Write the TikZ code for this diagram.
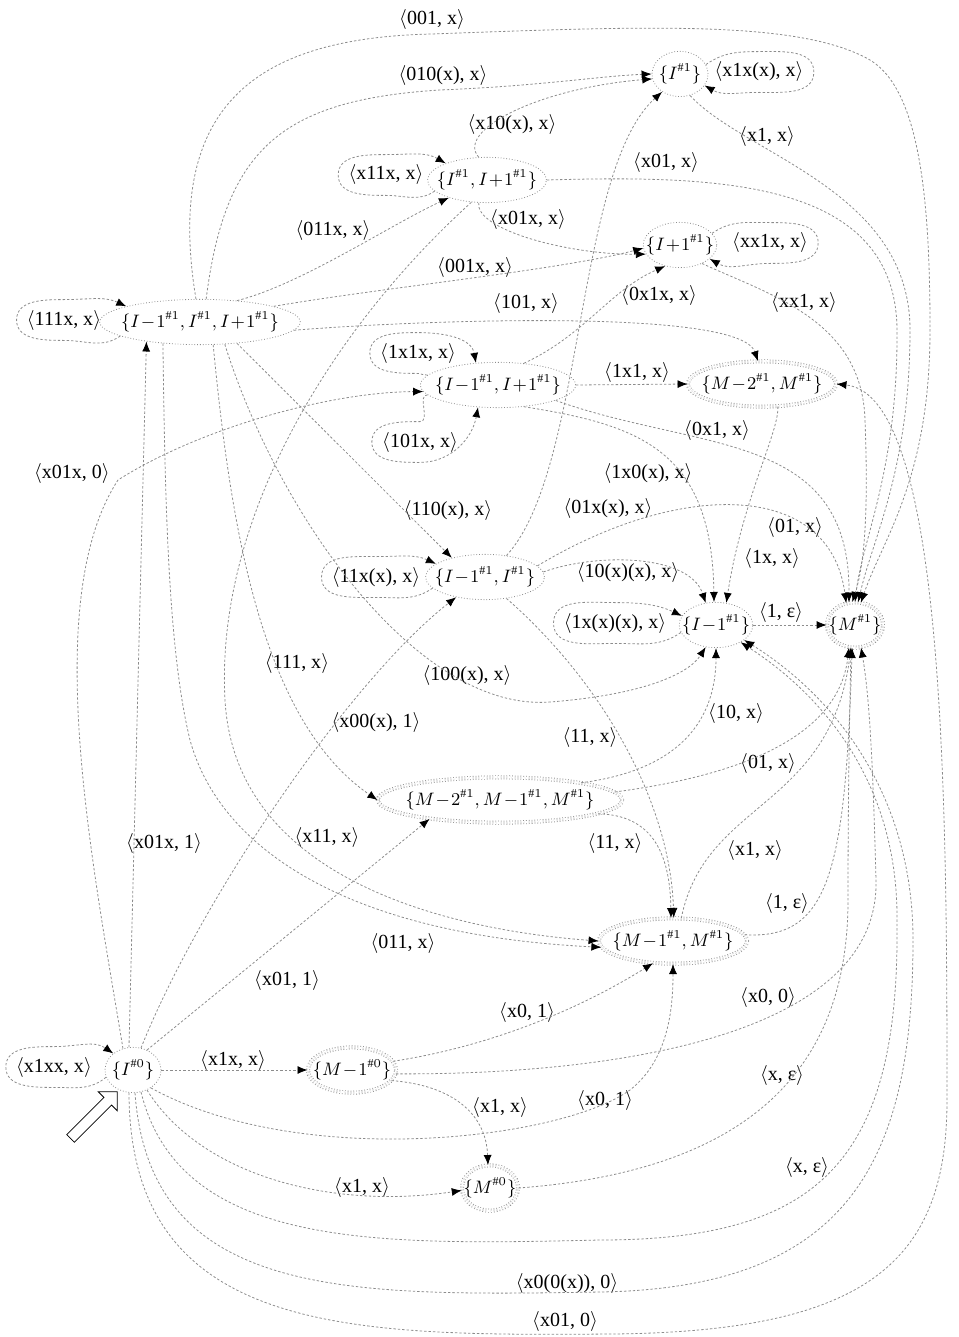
\documentclass[tikz,border=0pt]{standalone}
\usepackage{fontspec}
\setmainfont{Liberation Serif}
\usetikzlibrary{shapes.geometric,shapes.arrows,arrows.meta}
\newcommand{\trn}[1]{$\langle$#1$\rangle$}
\begin{document}
\begin{tikzpicture}[x=0.5pt,y=-0.5pt,
  state/.style={ellipse,draw=black!45,densely dotted,font=\small,inner xsep=-4pt,inner ysep=3pt,minimum width=28pt,minimum height=20pt},
  final/.style={state,double,double distance=1.2pt},
  lbl/.style={inner sep=1pt},
  edge/.style={draw=black!45,dash pattern=on 1.2pt off 1pt,-{Latex[length=5pt,width=4pt,color=black]}}]
\useasboundingbox (0,0) rectangle (958,1337);

% states
\node[state] (I0) at (133,1070) {$\{I^{\#0}\}$};
\node[state] (A) at (200,322) {$\{I\!-\!1^{\#1}, I^{\#1}, I\!+\!1^{\#1}\}$};
\node[state] (B) at (487,180) {$\{I^{\#1}, I\!+\!1^{\#1}\}$};
\node[state] (C) at (680,74) {$\{I^{\#1}\}$};
\node[state] (D) at (680,245) {$\{I\!+\!1^{\#1}\}$};
\node[state] (E) at (498,385) {$\{I\!-\!1^{\#1}, I\!+\!1^{\#1}\}$};
\node[final] (F) at (762,384) {$\{M\!-\!2^{\#1}, M^{\#1}\}$};
\node[state] (G) at (485,577) {$\{I\!-\!1^{\#1}, I^{\#1}\}$};
\node[state] (H) at (716,625) {$\{I\!-\!1^{\#1}\}$};
\node[final] (K) at (855,625) {$\{M^{\#1}\}$};
\node[final] (L) at (500,800) {$\{M\!-\!2^{\#1}, M\!-\!1^{\#1}, M^{\#1}\}$};
\node[final] (N) at (673,941) {$\{M\!-\!1^{\#1}, M^{\#1}\}$};
\node[final] (P) at (352,1070) {$\{M\!-\!1^{\#0}\}$};
\node[final] (Q) at (490,1188) {$\{M^{\#0}\}$};
\node[single arrow,draw,fill=white,rotate=45,minimum height=33pt,inner sep=2.5pt,single arrow head extend=4pt] (start) at (92,1117) {};

% loop labels
\node[lbl] (lA) at (64,320) {\trn{111x, x}};
\node[lbl] (lB) at (386,175) {\trn{x11x, x}};
\node[lbl] (lC) at (759,72) {\trn{x1x(x), x}};
\node[lbl] (lD) at (770,243) {\trn{xx1x, x}};
\node[lbl] (lE1) at (418,353) {\trn{1x1x, x}};
\node[lbl] (lE2) at (420,442) {\trn{101x, x}};
\node[lbl] (lG) at (376,577) {\trn{11x(x), x}};
\node[lbl] (lH) at (615,623) {\trn{1x(x)(x), x}};
\node[lbl] (lI) at (54,1067) {\trn{x1xx, x}};

% edge labels
\node[lbl] (lAK) at (432,20) {\trn{001, x}};
\node[lbl] (lAC) at (443,76) {\trn{010(x), x}};
\node[lbl] (lBC) at (512,125) {\trn{x10(x), x}};
\node[lbl] (lCK) at (767,137) {\trn{x1, x}};
\node[lbl] (lBK) at (666,163) {\trn{x01, x}};
\node[lbl] (lAB) at (333,230) {\trn{011x, x}};
\node[lbl] (lBD) at (528,220) {\trn{x01x, x}};
\node[lbl] (lAD) at (475,267) {\trn{001x, x}};
\node[lbl] (lAF) at (526,303) {\trn{101, x}};
\node[lbl] (lED) at (659,295) {\trn{0x1x, x}};
\node[lbl] (lDK) at (804,302) {\trn{xx1, x}};
\node[lbl] (lEF) at (637,372) {\trn{1x1, x}};
\node[lbl] (lEK) at (717,430) {\trn{0x1, x}};
\node[lbl] (lEH) at (648,473) {\trn{1x0(x), x}};
\node[lbl] (lFH) at (772,558) {\trn{1x, x}};
\node[lbl] (lAG) at (448,510) {\trn{110(x), x}};
\node[lbl] (lGC) at (608,508) {\trn{01x(x), x}};
\node[lbl] (lGK) at (795,527) {\trn{01, x}};
\node[lbl] (lGH) at (628,572) {\trn{10(x)(x), x}};
\node[lbl] (lHK) at (781,612) {\trn{1, ε}};
\node[lbl] (lAL) at (297,663) {\trn{111, x}};
\node[lbl] (lAH) at (467,675) {\trn{100(x), x}};
\node[lbl] (lIG) at (376,722) {\trn{x00(x), 1}};
\node[lbl] (lIA) at (164,843) {\trn{x01x, 1}};
\node[lbl] (lBN) at (327,837) {\trn{x11, x}};
\node[lbl] (lAN) at (403,943) {\trn{011, x}};
\node[lbl] (lIL) at (287,980) {\trn{x01, 1}};
\node[lbl] (lLH) at (736,713) {\trn{10, x}};
\node[lbl] (lLK) at (768,763) {\trn{01, x}};
\node[lbl] (lLN) at (615,843) {\trn{11, x}};
\node[lbl] (lGN) at (590,737) {\trn{11, x}};
\node[lbl] (lNK) at (755,850) {\trn{x1, x}};
\node[lbl] (lNKe) at (787,903) {\trn{1, ε}};
\node[lbl] (lPN) at (527,1012) {\trn{x0, 1}};
\node[lbl] (lPK) at (768,997) {\trn{x0, 0}};
\node[lbl] (lIP) at (233,1060) {\trn{x1x, x}};
\node[lbl] (lPQ) at (500,1107) {\trn{x1, x}};
\node[lbl] (lQK) at (782,1075) {\trn{x, ε}};
\node[lbl] (lIN) at (605,1100) {\trn{x0, 1}};
\node[lbl] (lIQ) at (362,1187) {\trn{x1, x}};
\node[lbl] (lIHe) at (807,1167) {\trn{x, ε}};
\node[lbl] (lIH) at (567,1283) {\trn{x0(0(x)), 0}};
\node[lbl] (lIF) at (565,1321) {\trn{x01, 0}};
\node[lbl] (lIE) at (72,473) {\trn{x01x, 0}};

% loops
\draw[edge] (A.190) to[out=215,in=0] ([yshift=-4pt]lA.south) to[out=180,in=-90] ([xshift=-4pt]lA.west) to[out=90,in=180] ([yshift=4pt]lA.north) to[out=0,in=155] (A.168);
\draw[edge] (B.192) to[out=215,in=0] ([yshift=-4pt]lB.south) to[out=180,in=-90] ([xshift=-4pt]lB.west) to[out=90,in=180] ([yshift=4pt]lB.north) to[out=0,in=150] (B.158);
\draw[edge] (C.20) to[out=35,in=180] ([yshift=4pt]lC.north) to[out=0,in=90] ([xshift=4pt]lC.east) to[out=-90,in=0] ([yshift=-4pt]lC.south) to[out=180,in=-30] (C.-25);
\draw[edge] (D.20) to[out=35,in=180] ([yshift=4pt]lD.north) to[out=0,in=90] ([xshift=4pt]lD.east) to[out=-90,in=0] ([yshift=-4pt]lD.south) to[out=180,in=-30] (D.-25);
\draw[edge] (E.172) to[out=190,in=0] ([yshift=-4pt]lE1.south) to[out=180,in=-90] ([xshift=-4pt]lE1.west) to[out=90,in=180] ([yshift=4pt]lE1.north) to[out=0,in=100] (E.135);
\draw[edge] (E.188) to[out=175,in=0] ([yshift=4pt]lE2.north) to[out=180,in=90] ([xshift=-4pt]lE2.west) to[out=-90,in=180] ([yshift=-4pt]lE2.south) to[out=0,in=-100] (E.228);
\draw[edge] (G.192) to[out=215,in=0] ([yshift=-4pt]lG.south) to[out=180,in=-90] ([xshift=-4pt]lG.west) to[out=90,in=180] ([yshift=4pt]lG.north) to[out=0,in=155] (G.165);
\draw[edge] (H.192) to[out=215,in=0] ([yshift=-4pt]lH.south) to[out=180,in=-90] ([xshift=-4pt]lH.west) to[out=90,in=180] ([yshift=4pt]lH.north) to[out=0,in=155] (H.165);
\draw[edge] (I0.195) to[out=220,in=0] ([yshift=-4pt]lI.south) to[out=180,in=-90] ([xshift=-4pt]lI.west) to[out=90,in=180] ([yshift=4pt]lI.north) to[out=0,in=145] (I0.140);

% transitions
\draw[edge] (A.100) .. controls (165,110) and (250,38) .. (432,34) .. controls (650,26) and (800,20) .. (870,60) .. controls (920,90) and (930,200) .. (930,330) .. controls (930,480) and (882,540) .. (K.75);
\draw[edge] (A.75) .. controls (225,150) and (280,100) .. (440,90) .. controls (540,86) and (600,76) .. (C.west);
\draw[edge] (B.110) .. controls (455,130) and (540,88) .. (C.190);
\draw[edge] (C.-65) .. controls (745,155) and (910,190) .. (910,330) .. controls (910,470) and (872,540) .. (K.82);
\draw[edge] (B.east) .. controls (720,175) and (896,180) .. (897,330) .. controls (898,470) and (862,540) .. (K.90);
\draw[edge] (A.30) .. controls (300,285) and (390,225) .. (B.205);
\draw[edge] (B.-110) .. controls (475,230) and (570,255) .. (D.195);
\draw[edge] (A.12) .. controls (380,288) and (560,270) .. (D.185);
\draw[edge] (A.-5) .. controls (420,320) and (740,308) .. (F.100);
\draw[edge] (E.40) .. controls (585,335) and (610,290) .. (D.235);
\draw[edge] (D.-40) .. controls (770,295) and (862,320) .. (865,420) .. controls (868,500) and (866,560) .. (K.97);
\draw[edge] (E.east) -- (F.west);
\draw[edge] (E.-15) .. controls (700,452) and (850,430) .. (K.105);
\draw[edge] (E.-40) .. controls (640,425) and (712,450) .. (H.95);
\draw[edge] (F.-55) .. controls (780,430) and (742,500) .. (H.65);
\draw[edge] (A.-30) -- (G.150);
\draw[edge] (G.45) .. controls (585,470) and (575,170) .. (C.225);
\draw[edge] (G.12) .. controls (680,480) and (830,480) .. (K.112);
\draw[edge] (G.5) .. controls (600,552) and (690,555) .. (H.115);
\draw[edge] (H.east) -- (K.west);
\draw[edge] (A.-60) .. controls (230,520) and (260,720) .. (L.west);
\draw[edge] (A.-42) .. controls (280,520) and (420,712) .. (550,702) .. controls (640,695) and (688,675) .. (H.-115);
\draw[edge] (I0.70) .. controls (200,900) and (350,680) .. (G.215);
\draw[edge] (I0.100) -- (A.-160);
\draw[edge] (B.235) .. controls (330,330) and (215,520) .. (225,700) .. controls (235,880) and (450,930) .. (N.180);
\draw[edge] (A.-150) .. controls (165,500) and (168,650) .. (190,740) .. controls (220,850) and (350,935) .. (N.185);
\draw[edge] (I0.55) -- (L.195);
\draw[edge] (L.12) .. controls (680,770) and (716,720) .. (H.-90);
\draw[edge] (L.4) .. controls (720,778) and (838,745) .. (K.-105);
\draw[edge] (L.-8) .. controls (650,815) and (670,850) .. (N.95);
\draw[edge] (G.-45) .. controls (600,680) and (670,800) .. (N.88);
\draw[edge] (N.70) .. controls (705,800) and (830,810) .. (K.-100);
\draw[edge] (N.5) .. controls (830,940) and (845,870) .. (K.-97);
\draw[edge] (P.12) .. controls (480,1048) and (570,1015) .. (N.228);
\draw[edge] (P.-5) .. controls (600,1075) and (880,1040) .. (876,880) .. controls (873,770) and (870,700) .. (K.-75);
\draw[edge] (I0.east) -- (P.west);
\draw[edge] (P.-15) .. controls (450,1085) and (486,1112) .. (Q.95);
\draw[edge] (Q.east) .. controls (760,1170) and (848,1060) .. (848,900) .. controls (848,780) and (850,700) .. (K.-100);
\draw[edge] (I0.-45) .. controls (300,1170) and (560,1140) .. (630,1090) .. controls (668,1060) and (673,1010) .. (N.-90);
\draw[edge] (I0.-55) .. controls (200,1175) and (330,1210) .. (Q.185);
\draw[edge] (I0.-70) .. controls (180,1250) and (380,1245) .. (600,1240) .. controls (820,1240) and (900,1160) .. (897,920) .. controls (898,790) and (830,700) .. (H.-35);
\draw[edge] (I0.-85) .. controls (150,1300) and (350,1296) .. (600,1292) .. controls (850,1288) and (913,1160) .. (913,940) .. controls (913,800) and (840,700) .. (H.-28);
\draw[edge] (I0.-100) .. controls (130,1335) and (350,1336) .. (610,1334) .. controls (870,1332) and (947,1260) .. (947,1100) .. controls (947,800) and (945,395) .. (F.east);
\draw[edge] (I0.115) .. controls (92,860) and (40,600) .. (118,480) .. controls (200,428) and (330,392) .. (E.185);
\end{tikzpicture}
\end{document}
